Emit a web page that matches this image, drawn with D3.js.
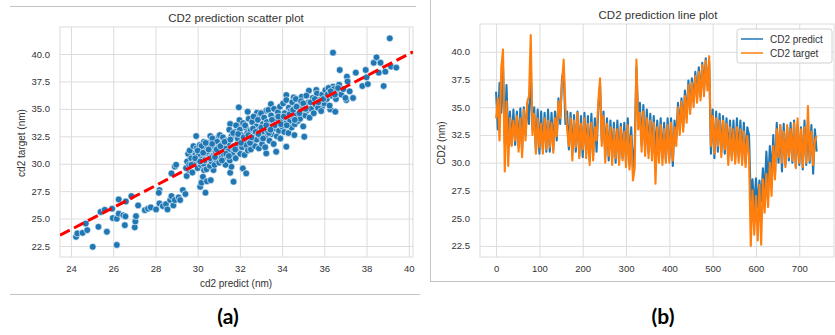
<!DOCTYPE html>
<html>
<head>
<meta charset="utf-8">
<script src="https://cdn.jsdelivr.net/npm/d3@7"></script>
<style>
body { margin: 0; background: #fff; }
svg { display: block; font-family: "Liberation Sans", Arial, sans-serif; }
</style>
</head>
<body>
<svg id="chart" width="835" height="335"></svg>
<script>
// ---- data ----
var scatterTicksX = [24, 26, 28, 30, 32, 34, 36, 38, 40];
var valueTicks = [22.5, 25, 27.5, 30, 32.5, 35, 37.5, 40];
var indexTicks = [0, 100, 200, 300, 400, 500, 600, 700];

// scatter: [cd2 predict, cd2 target]
var scatterPairs = [
  [24.24,23.34],[24.3,23.65],[24.55,23.7],[24.77,23.95],[24.7,24.55],[25.03,22.43],[25.3,24.25],[25.4,25.6],[25.6,25.8],[25.7,23.8],
  [25.95,25.9],[25.98,25.05],[26.17,24.99],[26.17,22.6],[26.26,26.75],[26.26,25.45],[26.48,25.3],[26.55,24.4],[26.6,26.56],[26.58,25.2],
  [26.86,27.05],[27.02,24.2],[27.05,24.74],[27.08,25.22],[27.18,26.2],[27.5,25.77],[27.65,25.9],[27.78,26.02],[28.03,25.84],[28.19,27.6],
  [28.16,27.35],[28.19,26.38],[28.35,26.14],[28.5,26.32],[28.57,25.84],[28.7,26.69],[28.76,27.05],[28.85,26.2],[28.92,26.69],[28.76,29.12],
  [28.92,29.73],[28.98,29.9],[29.1,26.93],[29.17,26.69],[29.3,27.6],[29.42,27.24],[29.48,28.88],[29.58,29.42],[29.58,30.03],[29.64,30.49],
  [29.7,30.64],[29.77,30.94],[29.93,32.52],[30.06,30.64],[30.12,27.9],[30.18,28.27],[30.25,28.81],[30.3,29.42],[30.37,27.36],[30.44,28.4],
  [30.6,32.52],[30.75,32.15],[30.62,28.5],[30.75,29.42],[31.0,32.46],[31.23,32.15],[31.54,29.18],[31.6,29.73],[31.7,28.36],[31.54,33.62],
  [31.95,35.14],[31.98,33.98],[32.05,33.37],[32.14,29.57],[32.3,29.12],[32.37,34.74],[32.81,34.65],[32.96,34.44],[33.25,34.83],[33.47,35.44],
  [33.25,30.94],[33.72,31.09],[34.2,31.55],[34.2,36.26],[34.55,36.05],[34.58,32.61],[34.93,36.1],[35.05,32.46],[35.27,36.66],[35.62,36.72],
  [35.9,35.2],[36.13,36.78],[36.41,37.02],[36.41,40.12],[36.28,34.95],[36.52,34.74],[36.73,38.54],[37.07,37.93],[37.04,35.8],[37.36,35.99],
  [37.49,38.3],[37.8,37.08],[37.96,38.54],[38.06,37.26],[38.0,37.87],[38.34,39.2],[38.47,39.7],[38.66,39.2],[38.58,38.3],[38.81,37.08],
  [38.89,38.39],[39.1,41.43],[39.16,38.85],[39.41,38.76],
  [29.45,29.6],[29.5,30.2],[29.55,30.9],[29.6,29.9],[29.62,31.2],[29.7,30.5],[29.75,29.2],[29.8,31.6],[29.85,30.1],[29.9,30.8],
  [29.95,31.4],[30.0,29.6],[30.02,30.3],[30.08,31.0],[30.1,31.7],[30.15,29.9],[30.2,30.6],[30.22,31.3],[30.28,30.0],[30.3,32.0],
  [30.35,30.9],[30.4,31.5],[30.42,29.5],[30.48,30.4],[30.5,31.9],[30.55,30.8],[30.58,29.8],[30.62,31.3],[30.66,30.2],[30.7,32.3],
  [30.72,30.7],[30.78,31.6],[30.8,29.9],[30.85,31.1],[30.88,30.4],[30.92,32.0],[30.95,30.9],[30.98,31.5],
  [31.02,30.1],[31.05,32.6],[31.1,31.0],[31.12,30.5],[31.18,31.8],[31.2,32.4],[31.25,30.8],[31.3,31.4],[31.32,29.9],[31.38,32.1],
  [31.4,30.6],[31.45,31.9],[31.5,33.1],[31.52,30.3],[31.58,31.2],[31.6,32.5],[31.65,30.9],[31.7,31.6],
  [31.75,32.9],[31.8,30.5],[31.82,33.5],[31.88,31.8],[31.9,32.3],[31.95,31.1],[32.0,33.1],[32.02,30.9],[32.08,32.6],[32.1,31.5],
  [32.15,33.7],[32.2,32.0],[32.22,30.8],[32.28,33.3],[32.3,31.7],[32.35,32.8],[32.38,31.2],[32.42,34.1],
  [32.45,32.4],[32.5,33.0],[32.52,31.3],[32.58,33.8],[32.6,32.0],[32.65,34.3],[32.7,32.7],[32.72,31.6],[32.78,33.4],[32.8,32.2],
  [32.85,34.0],[32.9,31.4],[32.92,33.1],[32.98,32.5],[33.0,34.6],[33.05,31.8],[33.08,33.6],[33.12,32.9],
  [33.15,34.2],[33.2,31.5],[33.22,32.4],[33.28,33.8],[33.3,33.0],[33.35,34.9],[33.4,32.1],[33.42,33.4],[33.48,34.4],[33.5,32.7],
  [33.55,33.9],[33.6,31.8],[33.62,35.0],[33.68,33.2],[33.7,34.1],[33.75,32.5],[33.78,33.6],[33.8,34.7],
  [33.85,33.0],[33.9,35.2],[33.92,32.3],[33.98,34.0],[34.0,33.4],[34.05,35.5],[34.1,32.9],[34.12,34.6],[34.18,33.7],[34.2,35.8],
  [34.25,34.2],[34.3,32.8],[34.32,35.1],[34.38,33.9],[34.4,34.8],[34.45,33.3],[34.48,35.6],[34.5,34.3],
  [34.55,35.0],[34.6,33.6],[34.65,35.9],[34.7,34.5],[34.75,33.9],[34.8,35.3],[34.85,34.1],[34.9,35.7],[34.95,34.7],[35.0,33.4],
  [35.05,35.2],[35.1,34.4],[35.15,36.2],[35.2,34.9],[35.25,35.6],[35.3,34.2],
  [35.38,35.0],[35.45,36.0],[35.5,34.6],[35.58,35.4],[35.65,36.4],[35.7,35.1],[35.78,35.8],[35.85,34.8],[35.9,36.3],[36.0,35.5],
  [36.05,36.7],[36.12,35.9],[36.2,36.9],[36.25,35.3],
  [36.35,36.2],[36.45,36.8],[36.55,35.9],[36.6,36.5],[36.7,37.2],[36.8,36.3],[36.9,36.8],[37.0,36.0],[37.1,37.5],[37.2,36.6],
  [30.05,30.9],[30.18,31.6],[30.32,30.3],[30.45,31.1],[30.6,30.5],[30.68,31.8],[30.82,30.6],[30.9,31.3],[31.08,31.6],[31.15,30.3],
  [31.28,32.0],[31.42,31.1],[31.55,32.2],[31.68,32.8],[31.78,31.3],[31.92,32.7],[32.05,31.9],[32.18,32.4],[32.25,33.5],[32.4,32.6],
  [32.48,31.9],[32.62,33.2],[32.75,32.9],[32.88,32.7],[33.02,33.3],[33.1,32.3],[33.25,33.5],[33.38,32.8],[33.52,34.0],[33.65,33.5],
  [33.82,34.3],[33.95,33.6],[34.08,34.3],[34.22,33.5],[34.35,34.5],[34.52,34.9],[34.68,35.2],[34.82,34.6],[35.0,35.5],[35.12,35.0],
  [35.35,35.6],[35.55,35.9],[35.72,35.6],[35.95,35.9],[36.15,36.3],[36.3,36.6],[36.5,36.3],[36.65,36.9],[29.7,29.9],[29.88,30.5],
  [30.0,31.2],[30.12,30.2],[30.26,31.0],[30.38,31.9],[30.52,31.3],[31.35,30.9],[31.48,30.7],[32.55,32.4],[33.45,33.1],[34.6,34.0]
];

// line plot: one reading every 4 samples (index 0..740)
var sampleStep = 4;
var cd2Predict = [
  36.4,33.0,37.2,34.5,38.6,31.8,37.0,32.0,34.6,31.6,
  34.8,31.6,34.6,31.4,34.9,31.2,35.0,32.5,35.3,33.5,
  38.5,33.0,35.0,31.0,34.8,30.8,34.6,31.2,34.5,31.0,
  34.8,31.0,34.5,31.2,34.6,32.0,35.8,33.5,37.5,38.5,
  33.5,34.6,31.2,34.5,30.8,34.3,31.0,34.6,30.6,34.2,
  30.5,34.5,30.8,34.2,30.2,34.4,30.6,34.0,31.0,35.0,
  37.0,32.0,34.6,30.6,34.0,30.2,33.8,30.5,33.6,30.0,
  33.8,30.2,33.5,30.4,33.6,30.0,34.0,29.8,33.2,29.6,
  31.5,38.6,34.0,35.4,31.6,35.2,31.2,34.8,30.9,34.4,
  30.8,34.2,30.5,33.8,30.6,34.0,30.4,33.6,30.2,34.0,
  30.4,34.0,29.7,33.8,32.2,35.4,33.0,35.8,33.2,36.5,
  34.0,37.4,34.8,37.6,35.5,38.2,35.8,38.6,36.0,39.0,
  36.4,39.4,37.0,39.0,30.8,34.8,30.4,34.6,31.0,34.4,
  31.0,34.2,30.8,34.0,30.5,33.8,30.6,33.8,30.3,34.0,
  30.6,33.8,30.2,33.6,30.0,33.2,32.5,26.5,28.5,25.8,
  28.6,26.0,28.4,26.5,29.5,27.0,31.0,27.8,31.5,28.8,
  32.5,29.0,33.6,30.0,33.4,29.2,33.5,29.8,33.2,30.2,
  33.6,30.0,33.8,29.6,33.4,29.8,33.2,29.4,33.8,29.8,
  33.6,30.0,33.4,29.0,33.0,31.0
];
var cd2Target = [
  34.0,35.8,32.0,38.6,40.2,29.2,35.5,29.7,34.0,31.5,
  33.8,32.0,34.2,31.0,34.0,30.5,34.8,32.0,35.5,36.0,
  41.5,32.5,34.4,30.8,34.0,31.4,33.5,30.8,34.0,31.2,
  33.8,31.4,33.6,30.9,34.0,32.4,35.5,34.0,37.0,39.3,
  35.0,33.0,31.5,34.0,30.2,33.8,31.4,34.5,30.4,33.5,
  31.2,34.0,30.4,33.5,29.8,33.6,30.2,33.2,32.0,35.5,
  37.6,31.5,34.2,30.0,33.5,30.6,33.2,29.8,33.0,30.4,
  33.0,29.8,33.2,30.2,32.8,29.6,33.4,29.4,32.4,28.4,
  29.5,39.3,33.0,34.5,31.0,34.6,30.6,34.0,30.4,33.8,
  30.2,33.6,28.1,33.2,30.0,33.4,29.8,33.0,30.0,33.4,
  30.0,33.6,30.2,33.2,31.5,35.0,32.5,35.5,32.8,36.0,
  33.6,37.0,34.4,37.2,35.0,37.8,35.4,38.2,35.6,38.8,
  36.0,39.2,36.5,39.6,31.5,34.2,30.8,34.0,31.5,33.8,
  30.5,33.8,31.2,33.5,29.8,33.2,30.2,33.0,29.9,33.2,
  30.0,33.0,29.8,32.8,29.6,32.4,30.5,22.5,27.5,23.5,
  27.0,23.0,28.0,22.6,28.5,25.5,29.0,26.0,30.0,27.0,
  31.5,28.5,33.0,30.5,33.4,30.0,32.8,29.6,33.4,30.5,
  33.0,30.2,33.6,29.5,34.0,30.0,33.0,29.6,33.2,30.0,
  35.1,30.2,32.8,29.8,32.0,32.4
];
var seriesNames = ['CD2 predict', 'CD2 target'];
var seriesColors = ['#1f77b4', '#ff7f0e'];

// ---- drawing ----
var svg = d3.select('#chart');
var gridColor = '#dcdcdc';
var textColor = '#333';

// panel frames (from the composed figure)
var frame = svg.append('g').attr('stroke', '#c4c4c4').attr('stroke-width', 1);
frame.append('line').attr('x1', 10).attr('x2', 416).attr('y1', 6.5).attr('y2', 6.5);
frame.append('line').attr('x1', 10).attr('x2', 420).attr('y1', 294.5).attr('y2', 294.5);
frame.append('line').attr('x1', 430.5).attr('x2', 430.5).attr('y1', 0).attr('y2', 281.5);
frame.append('line').attr('x1', 430).attr('x2', 835).attr('y1', 281.5).attr('y2', 281.5);

function drawAxes(g, x, y, xt, yt, xfmt) {
	var L = x.range()[0], R = x.range()[1], B = y.range()[0], T = y.range()[1];
	g.append('g')
		.attr('transform', 'translate(0,' + B + ')')
		.call(d3.axisBottom(x).tickValues(xt).tickSize(-(B - T)).tickPadding(8).tickFormat(xfmt))
		.call(function(a) {
			a.select('.domain').remove();
			a.selectAll('line').attr('stroke', gridColor);
			a.selectAll('text').attr('fill', textColor).style('font-size', '9.5px');
		});
	g.append('g')
		.attr('transform', 'translate(' + L + ',0)')
		.call(d3.axisLeft(y).tickValues(yt).tickSize(-(R - L)).tickPadding(10).tickFormat(d3.format('.1f')))
		.call(function(a) {
			a.select('.domain').remove();
			a.selectAll('line').attr('stroke', gridColor);
			a.selectAll('text').attr('fill', textColor).style('font-size', '9.5px');
		});
	g.append('rect')
		.attr('x', L).attr('y', T)
		.attr('width', R - L).attr('height', B - T)
		.attr('fill', 'none').attr('stroke', gridColor);
}

function addClip(id, x, y) {
	svg.append('clipPath').attr('id', id).append('rect')
		.attr('x', x.range()[0]).attr('y', y.range()[1])
		.attr('width', x.range()[1] - x.range()[0])
		.attr('height', y.range()[0] - y.range()[1]);
}

// (a) scatter
var xa = d3.scaleLinear().domain([23.48, 40.2]).range([60, 413]);
var ya = d3.scaleLinear().domain([21.5, 42.46]).range([257, 27]);
var ga = svg.append('g');
drawAxes(ga, xa, ya, scatterTicksX, valueTicks, d3.format('d'));
addClip('clipA', xa, ya);
ga.append('g').attr('clip-path', 'url(#clipA)')
	.selectAll('circle')
	.data(scatterPairs)
	.enter().append('circle')
	.attr('cx', function(d) { return xa(d[0]); })
	.attr('cy', function(d) { return ya(d[1]); })
	.attr('r', 3.4)
	.attr('fill', '#1f77b4')
	.attr('stroke', '#fff')
	.attr('stroke-width', 0.6);
// y = x reference line
ga.append('line').attr('clip-path', 'url(#clipA)')
	.attr('x1', xa(xa.domain()[0])).attr('y1', ya(xa.domain()[0]))
	.attr('x2', xa(xa.domain()[1])).attr('y2', ya(xa.domain()[1]))
	.attr('stroke', '#ff0000').attr('stroke-width', 3)
	.attr('stroke-dasharray', '11,4.8');
ga.append('text').text('CD2 prediction scatter plot')
	.attr('x', 236).attr('y', 22).attr('text-anchor', 'middle')
	.attr('fill', textColor).style('font-size', '11.5px');
ga.append('text').text('cd2 predict (nm)')
	.attr('x', 236).attr('y', 287).attr('text-anchor', 'middle')
	.attr('fill', textColor).style('font-size', '10px');
ga.append('text').text('cd2 target (nm)')
	.attr('transform', 'translate(25,143) rotate(-90)').attr('text-anchor', 'middle')
	.attr('fill', textColor).style('font-size', '10px');

// (b) line plot
var xb = d3.scaleLinear().domain([-37.15, 780.15]).range([480, 834]);
var yb = d3.scaleLinear().domain([21.5, 42.5]).range([257, 24]);
var gb = svg.append('g');
drawAxes(gb, xb, yb, indexTicks, valueTicks, d3.format('d'));
addClip('clipB', xb, yb);
var line = d3.line()
	.x(function(d, i) { return xb(i * sampleStep); })
	.y(function(d) { return yb(d); });
[cd2Predict, cd2Target].forEach(function(s, k) {
	gb.append('path').attr('clip-path', 'url(#clipB)')
		.attr('d', line(s))
		.attr('fill', 'none')
		.attr('stroke', seriesColors[k])
		.attr('stroke-width', 2.1)
		.attr('stroke-linejoin', 'round');
});
gb.append('text').text('CD2 prediction line plot')
	.attr('x', 658).attr('y', 19).attr('text-anchor', 'middle')
	.attr('fill', textColor).style('font-size', '11.5px');
gb.append('text').text('CD2 (nm)')
	.attr('transform', 'translate(445,143) rotate(-90)').attr('text-anchor', 'middle')
	.attr('fill', textColor).style('font-size', '10px');

// legend
var lg = gb.append('g').attr('transform', 'translate(737,29)');
lg.append('rect').attr('width', 95).attr('height', 34).attr('rx', 2.5)
	.attr('fill', '#fff').attr('fill-opacity', 0.85).attr('stroke', '#d0d0d0');
seriesNames.forEach(function(n, k) {
	lg.append('line').attr('x1', 4).attr('x2', 26).attr('y1', 10 + k * 14).attr('y2', 10 + k * 14)
		.attr('stroke', seriesColors[k]).attr('stroke-width', 1.5);
	lg.append('text').text(n).attr('x', 33).attr('y', 13.5 + k * 14)
		.attr('fill', textColor).style('font-size', '10px');
});

// panel captions
svg.selectAll('text.caption')
	.data([['(a)', 228], ['(b)', 663]])
	.enter().append('text').attr('class', 'caption')
	.text(function(d) { return d[0]; })
	.attr('x', function(d) { return d[1]; }).attr('y', 324)
	.attr('text-anchor', 'middle')
	.style('font-family', 'Lato, "Open Sans", sans-serif')
	.style('font-weight', 'bold').style('font-size', '21px')
	.attr('fill', '#000');
</script>
</body>
</html>
